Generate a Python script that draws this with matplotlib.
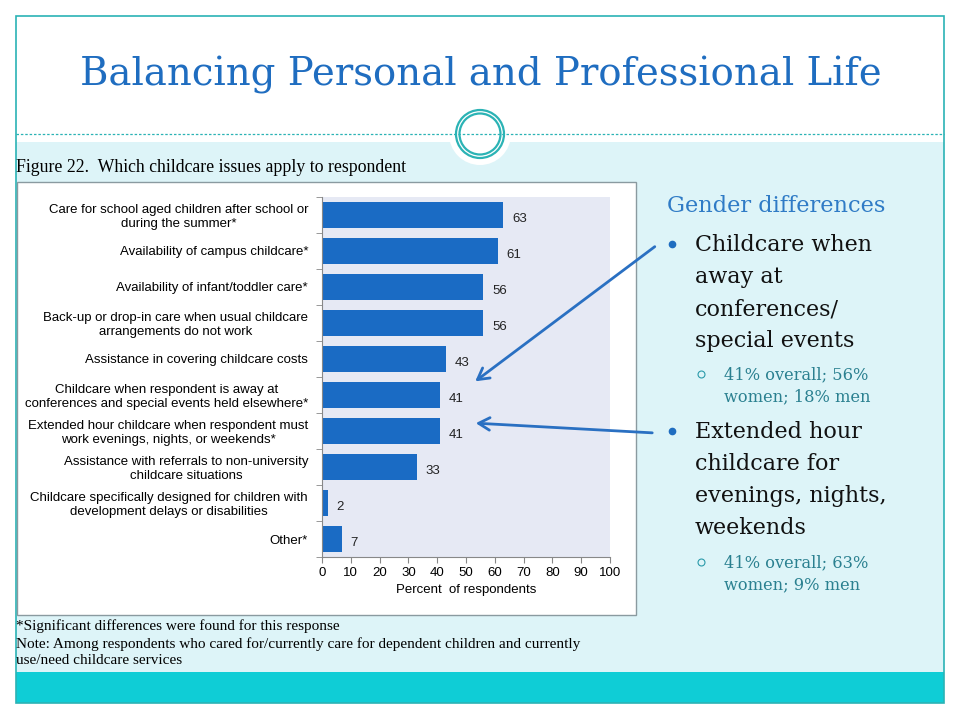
#!/usr/bin/env python3
"""Slide: childcare issues bar chart with gender-difference notes."""
import matplotlib
matplotlib.use("Agg")
import matplotlib.pyplot as plt
from matplotlib.patches import Rectangle, Circle, FancyArrowPatch

categories = [
    "Care for school aged children after school or\nduring the summer*",
    "Availability of campus childcare*",
    "Availability of infant/toddler care*",
    "Back-up or drop-in care when usual childcare\narrangements do not work",
    "Assistance in covering childcare costs",
    "Childcare when respondent is away at\nconferences and special events held elsewhere*",
    "Extended hour childcare when respondent must\nwork evenings, nights, or weekends*",
    "Assistance with referrals to non-university\nchildcare situations",
    "Childcare specifically designed for children with\ndevelopment delays or disabilities",
    "Other*",
]
percent = [63, 61, 56, 56, 43, 41, 41, 33, 2, 7]
xticks = list(range(0, 101, 10))

TEAL = "#2BB3B5"
BAR = "#1A6BC4"
SERIF = ["DejaVu Serif"]
SANS = ["Liberation Sans", "DejaVu Sans"]
NOTE = ["Liberation Serif"]

fig = plt.figure(figsize=(9.6, 7.2), dpi=100)
fig.patch.set_facecolor("white")


def pixel_axes(zorder):
    a = fig.add_axes([0, 0, 1, 1], zorder=zorder)
    a.set_xlim(0, 960)
    a.set_ylim(720, 0)
    a.axis("off")
    a.patch.set_alpha(0)
    return a


bg = pixel_axes(0)

bg.add_patch(Rectangle((16, 142), 928, 530, facecolor="#DDF4F8", edgecolor="none"))
bg.add_patch(Rectangle((16, 672), 928, 31, facecolor="#0FCDD6", edgecolor="none"))
bg.add_patch(Rectangle((16, 16), 928, 687, facecolor="none", edgecolor=TEAL, lw=1.2))
bg.plot([16, 944], [134, 134], ls=(0, (2, 1.5)), color=TEAL, lw=0.9)
bg.add_patch(Circle((480, 134), 31, facecolor="white", edgecolor="none"))
bg.add_patch(Circle((480, 134), 24, facecolor="white", edgecolor=TEAL, lw=1.6))
bg.add_patch(Circle((480, 134), 20.5, facecolor="none", edgecolor=TEAL, lw=1.6))

bg.text(481, 75, "Balancing Personal and Professional Life", ha="center", va="center",
        fontsize=27.8, color="#1F6DC0", family=SERIF)
bg.text(16, 168, "Figure 22.  Which childcare issues apply to respondent", ha="left",
        va="center", fontsize=12.8, color="black", family=NOTE)

# chart box
bg.add_patch(Rectangle((17, 182), 619, 433, facecolor="white", edgecolor="#8A9AA0", lw=1.0))

bg.text(16, 626, "*Significant differences were found for this response", fontsize=11,
        va="center", family=NOTE)
bg.text(16, 644, "Note: Among respondents who cared for/currently care for dependent children and currently",
        fontsize=11, va="center", family=NOTE)
bg.text(16, 661, "use/need childcare services", fontsize=11, va="center", family=NOTE)

# right-hand notes
bg.text(667, 206, "Gender differences", fontsize=16.2, color="#2F7BC6", va="center", family=SERIF)
main_lines = [
    (672, 245, ["Childcare when", "away at", "conferences/", "special events"]),
    (672, 432, ["Extended hour", "childcare for", "evenings, nights,", "weekends"]),
]
subs = [(375, ["41% overall; 56%", "women; 18% men"]),
        (563, ["41% overall; 63%", "women; 9% men"])]
for (bx, by, lines), (sy, slines) in zip(main_lines, subs):
    bg.plot(bx, by - 1, "o", ms=4.5, color="#1F6DC0")
    for i, ln in enumerate(lines):
        bg.text(695, by + i * 32, ln, fontsize=16, va="center", family=SERIF, color="#111111")
    bg.plot(701, sy - 1, "o", ms=5, mfc="none", mec="#2A9AAA", mew=0.8)
    for i, ln in enumerate(slines):
        bg.text(724, sy + i * 22, ln, fontsize=11.7, va="center", family=SERIF, color="#2A8090")

# bar chart
ax = fig.add_axes([322 / 960, 1 - 557 / 720, 288 / 960, 360 / 720], zorder=1)
ax.set_facecolor("#E6E9F4")
y = list(range(len(categories)))
ax.barh(y, percent, height=0.7, color=BAR, zorder=2)
for yi, v in zip(y, percent):
    ax.text(v + 3, yi + 0.1, str(v), va="center", ha="left", fontsize=9.5,
            color="#222222", family=SANS)
ax.set_xlim(0, 100)
ax.set_ylim(len(categories) - 0.5, -0.5)
ax.set_xticks(xticks)
ax.set_xticklabels([str(t) for t in xticks], fontsize=9.5, family=SANS)
ax.set_yticks(y)
ax.set_yticklabels(categories, fontsize=9.5, family=SANS, ha="right",
                   multialignment="center", linespacing=1.2)
ax.set_yticks([i - 0.5 for i in range(len(categories) + 1)], minor=True)
ax.tick_params(axis="y", which="major", length=0, pad=10)
ax.tick_params(axis="y", which="minor", length=4, color="#888888", direction="out")
ax.tick_params(axis="x", length=4, color="#888888", direction="out", pad=3)
ax.set_xlabel("Percent  of respondents", fontsize=9.5, family=SANS, labelpad=4)
for side in ("top", "right"):
    ax.spines[side].set_visible(False)
for side in ("left", "bottom"):
    ax.spines[side].set_color("#888888")
    ax.spines[side].set_linewidth(0.8)

# arrows from notes to bars, drawn on top of everything
top = pixel_axes(2)
for start, end in [((657, 245), (473, 383)), ((655, 433), (473, 423))]:
    top.add_patch(FancyArrowPatch(start, end, arrowstyle="->,head_length=8,head_width=4.5",
                                  color="#2A70C2", lw=2, mutation_scale=1))

fig.savefig("out.png", dpi=100, facecolor=fig.get_facecolor())
